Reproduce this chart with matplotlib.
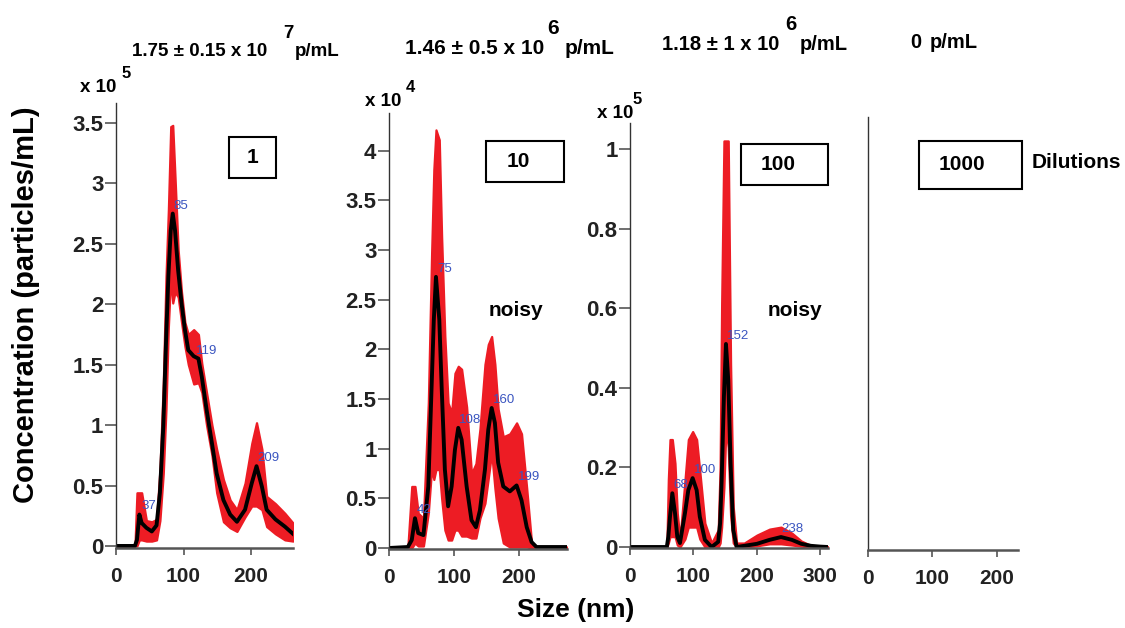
import matplotlib
matplotlib.use("Agg")
import matplotlib.pyplot as plt
from matplotlib.patches import Rectangle

plt.rcParams["font.family"] = ["Liberation Sans", "DejaVu Sans"]
plt.rcParams["font.weight"] = "bold"

# Size grid (nm), mean concentration and the red error band
size_1 = [0, 28, 31, 34.6, 38, 45, 53, 60, 65, 70, 74, 77.5, 81, 84, 87.4, 92, 97, 102, 107,
          115, 122, 127, 134, 142, 149, 159, 169, 179, 191, 201, 208, 216, 223, 236, 250, 262]
mean_1 = [0, 0, 0.05, 0.26, 0.19, 0.15, 0.12, 0.17, 0.44, 0.99, 1.68, 2.23, 2.61, 2.75, 2.61,
          2.28, 2.01, 1.79, 1.62, 1.57, 1.55, 1.40, 1.13, 0.85, 0.6, 0.38, 0.26, 0.2, 0.3,
          0.52, 0.66, 0.49, 0.3, 0.22, 0.16, 0.1]
upper_1 = [0, 0, 0.44, 0.44, 0.44, 0.21, 0.2, 0.22, 0.63, 1.35, 2.23, 2.78, 3.47, 3.48, 3.05,
           2.45, 2.1, 1.85, 1.75, 1.79, 1.75, 1.51, 1.27, 1.0, 0.8, 0.55, 0.38, 0.3, 0.52,
           0.85, 1.02, 0.8, 0.41, 0.35, 0.27, 0.19]
lower_1 = [0, 0, 0, 0.05, 0.05, 0.04, 0.04, 0.05, 0.21, 0.6, 1.13, 1.81, 2.23, 2.01, 2.1,
           2.06, 1.85, 1.65, 1.5, 1.34, 1.35, 1.27, 1.0, 0.75, 0.44, 0.2, 0.15, 0.12, 0.24,
           0.33, 0.33, 0.3, 0.16, 0.1, 0.05, 0.04]

size_2 = [0, 29, 35, 40, 45, 53, 60.5, 65.6, 69, 72.3, 77.4, 81, 86, 91, 96.4, 101.5, 106.6,
          111.8, 119.5, 127, 133.8, 140, 147.7, 152.8, 158, 163, 168, 175.9, 186, 196.4, 204,
          212, 219.5, 227, 274]
mean_2 = [0, 0.01, 0.08, 0.3, 0.15, 0.13, 0.62, 1.63, 2.3, 2.73, 2.3, 1.63, 0.79, 0.42, 0.62,
          0.99, 1.21, 1.09, 0.62, 0.28, 0.21, 0.38, 0.79, 1.19, 1.41, 1.26, 0.86, 0.62, 0.57,
          0.63, 0.48, 0.21, 0.06, 0.01, 0.01]
upper_2 = [0, 0.01, 0.62, 0.62, 0.35, 0.3, 1.46, 2.97, 3.81, 4.21, 4.11, 3.14, 2.13, 1.46,
           1.36, 1.76, 1.83, 1.8, 1.42, 0.75, 0.85, 1.2, 1.85, 2.05, 2.13, 1.85, 1.4, 1.12,
           1.15, 1.26, 1.15, 0.6, 0.05, 0.01, 0.01]
lower_2 = [0, 0, 0, 0.05, 0.02, 0.02, 0.35, 0.8, 0.69, 0.79, 0.79, 0.5, 0.18, 0.08, 0.08,
           0.18, 0.18, 0.12, 0.12, 0.1, 0.1, 0.3, 0.45, 0.7, 0.96, 0.6, 0.3, 0.05, 0.01, 0.01,
           0.01, 0.01, 0, 0, 0]

size_3 = [0, 58, 60.4, 63, 66.7, 70.9, 74.5, 78.7, 86.6, 91.9, 98.7, 105, 110, 118, 128.6,
          139, 142, 144.4, 148, 151.2, 154.8, 158.5, 162.7, 168, 180, 200, 220, 238, 255,
          270, 285, 300, 312]
mean_3 = [0, 0, 0.026, 0.076, 0.135, 0.085, 0.026, 0.01, 0.085, 0.143, 0.173, 0.143, 0.076,
          0.018, 0, 0.013, 0.06, 0.168, 0.378, 0.51, 0.42, 0.21, 0.043, 0, 0.003, 0.008,
          0.018, 0.025, 0.018, 0.008, 0.003, 0.001, 0]
upper_3 = [0, 0, 0.17, 0.27, 0.27, 0.21, 0.085, 0.02, 0.168, 0.27, 0.29, 0.27, 0.19, 0.06,
           0.01, 0.043, 0.2, 0.61, 1.02, 1.02, 1.02, 0.46, 0.1, 0.01, 0.01, 0.03, 0.045,
           0.05, 0.035, 0.015, 0.004, 0.001, 0]
lower_3 = [0, 0, 0.01, 0.026, 0.026, 0.026, 0.005, 0, 0.02, 0.05, 0.05, 0.05, 0.02, 0, 0,
           0, 0.01, 0.05, 0.15, 0.3, 0.25, 0.08, 0.01, 0, 0, 0.003, 0.008, 0.008, 0.005,
           0.002, 0, 0, 0]

# Labelled peaks (size, height)
peaks_1 = [37, 85, 119, 209]
peak_h_1 = [0.26, 2.75, 1.55, 0.66]
peaks_2 = [42, 75, 108, 160, 199]
peak_h_2 = [0.3, 2.73, 1.21, 1.41, 0.63]
peaks_3 = [68, 100, 152, 238]
peak_h_3 = [0.135, 0.173, 0.51, 0.025]

yticks_1 = [0, 0.5, 1, 1.5, 2, 2.5, 3, 3.5]
yticks_2 = [0, 0.5, 1, 1.5, 2, 2.5, 3, 3.5, 4]
yticks_3 = [0, 0.2, 0.4, 0.6, 0.8, 1]

dilutions = ["1", "10", "100", "1000"]
conc_base = ["1.75 \u00b1 0.15 x 10", "1.46 \u00b1 0.5 x 10", "1.18 \u00b1 1 x 10", "0"]
conc_exp = ["7", "6", "6", ""]
offset_exp = ["5", "4", "5"]

W, H = 1125, 628
RED = "#ed1c24"
BLUE = "#3a55c0"
GREY = "#555555"


def rect(left, right, top, bottom):
    return [left / W, 1 - bottom / H, (right - left) / W, (bottom - top) / H]


def fpos(px, py):
    return px / W, 1 - py / H


fig = plt.figure(figsize=(W / 100, H / 100), dpi=100)

# axes boxes in pixels: left, right, top, bottom
ax1 = fig.add_axes(rect(116, 293, 103, 548))
ax2 = fig.add_axes(rect(389, 567, 113, 549))
ax3 = fig.add_axes(rect(630, 828, 123, 548))
ax4 = fig.add_axes(rect(868, 1018, 117, 550))

panels = [
    (ax1, size_1, mean_1, upper_1, lower_1, peaks_1, peak_h_1, yticks_1, (0, 262), (-0.017, 3.665)),
    (ax2, size_2, mean_2, upper_2, lower_2, peaks_2, peak_h_2, yticks_2, (0, 274), (-0.01, 4.38)),
    (ax3, size_3, mean_3, upper_3, lower_3, peaks_3, peak_h_3, yticks_3, (0, 312), (-0.0025, 1.065)),
]

for ax, x, m, up, lo, pk, ph, yt, xl, yl in panels:
    # thin red edge widens the band a little, like the bar-drawn band in the source
    ax.fill_between(x, lo, up, facecolor=RED, edgecolor=RED, linewidth=1.6)
    ax.plot(x, m, color="black", linewidth=2.8, solid_joinstyle="round")
    for p, h in zip(pk, ph):
        ax.annotate(str(p), (p, h), xytext=(0, 1.5), textcoords="offset points",
                    ha="left", va="bottom", fontsize=9.5, fontweight="normal", color=BLUE)
    ax.set_xlim(*xl)
    ax.set_ylim(*yl)
    ax.set_yticks(yt)
    ax.set_yticklabels([("%g" % v) for v in yt])
    ax.tick_params(axis="y", length=8, width=1.2, color=GREY, pad=1, labelsize=16)

ax4.set_xlim(0, 233)
ax4.set_ylim(0, 1)
ax4.set_yticks([])

for ax in [ax1, ax2, ax3, ax4]:
    ax.set_facecolor("none")
    for s in ["top", "right"]:
        ax.spines[s].set_visible(False)
    ax.spines["left"].set_color("#333333")
    ax.spines["left"].set_linewidth(1.0)
    ax.spines["bottom"].set_color(GREY)
    ax.spines["bottom"].set_linewidth(1.8)
    ax.set_xticks([t for t in [0, 100, 200, 300] if t <= ax.get_xlim()[1]])
    ax.tick_params(axis="x", length=5, width=1.2, color=GREY, pad=9, labelsize=15,
                   labelcolor="#222222")
    ax.tick_params(axis="y", labelcolor="#222222")

# dilution boxes (pixel boxes and text centers)
boxes = [(229, 276, 137, 178, 253), (486, 564, 141, 182, 518),
         (741, 828, 144, 185, 778), (919, 1022, 141, 189, 962)]
for (l, r, t, b, cx), lab in zip(boxes, dilutions):
    x0, y0 = fpos(l, b)
    fig.patches.append(Rectangle((x0, y0), (r - l) / W, (b - t) / H, transform=fig.transFigure,
                                 fill=False, edgecolor="black", linewidth=1.5))
    tx, ty = fpos(cx, (t + b) / 2)
    fig.text(tx, ty, lab, ha="center", va="center", fontsize=15)

tx, ty = fpos(1032, 163)
fig.text(tx, ty, "Dilutions", ha="left", va="center", fontsize=15)

# concentration titles: base x, y, exponent x, y, unit x, font size
title_pos = [(132, 52, 283, 33, 295, 13.5), (405, 49, 547, 28, 565, 15),
             (662, 45, 785, 24, 800, 14.5), (910, 42, None, None, 930, 14.5)]
for (bx, by, ex, ey, ux, fs), base, e in zip(title_pos, conc_base, conc_exp):
    x, y = fpos(bx, by)
    fig.text(x, y, base, ha="left", va="center", fontsize=fs)
    if e:
        x, y = fpos(ex, ey)
        fig.text(x, y, e, ha="left", va="center", fontsize=fs)
    x, y = fpos(ux, by)
    fig.text(x, y, "p/mL", ha="left", va="center", fontsize=fs)

# axis multipliers
mult_pos = [(80, 88, 122, 74), (365, 101, 406, 88), (597, 114, 633, 100)]
for (bx, by, ex, ey), e in zip(mult_pos, offset_exp):
    x, y = fpos(bx, by)
    fig.text(x, y, "x 10", ha="left", va="center", fontsize=13.5)
    x, y = fpos(ex, ey)
    fig.text(x, y, e, ha="left", va="center", fontsize=12)

for cx in [516, 795]:
    x, y = fpos(cx, 310)
    fig.text(x, y, "noisy", ha="center", va="center", fontsize=15)

x, y = fpos(26, 305)
fig.text(x, y, "Concentration (particles/mL)", rotation=90, ha="center", va="center", fontsize=21)
x, y = fpos(576, 610)
fig.text(x, y, "Size (nm)", ha="center", va="center", fontsize=19)

fig.savefig("out.png", dpi=100)
